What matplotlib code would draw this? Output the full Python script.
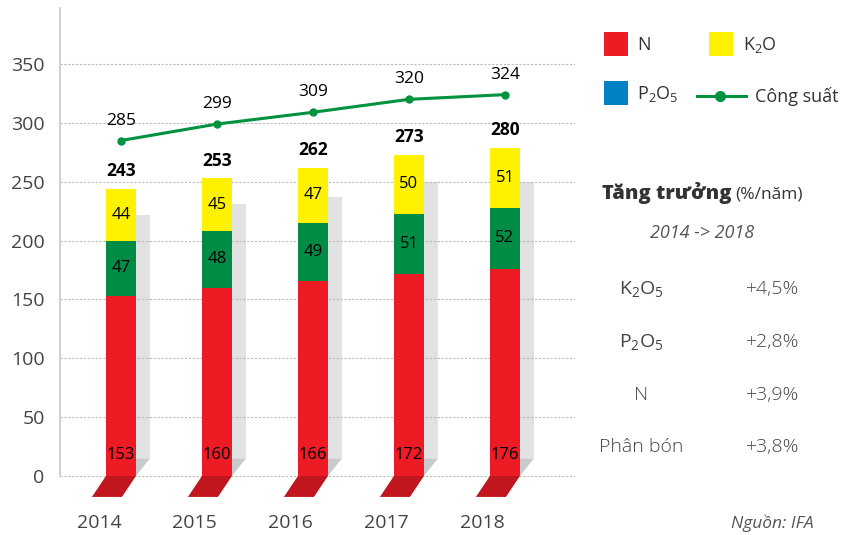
import numpy as np
import matplotlib
matplotlib.use("Agg")
import matplotlib.pyplot as plt
from matplotlib.patches import Rectangle, Polygon
from matplotlib.lines import Line2D

plt.rcParams['font.family'] = ['Open Sans', 'DejaVu Sans']
plt.rcParams['mathtext.fontset'] = 'custom'
plt.rcParams['mathtext.rm'] = 'Open Sans'
plt.rcParams['mathtext.it'] = 'Open Sans:italic'
plt.rcParams['mathtext.bf'] = 'Open Sans:bold'

# du lieu
years = ['2014', '2015', '2016', '2017', '2018']
n_vals = [153, 160, 166, 172, 176]
p2o5_vals = [47, 48, 49, 51, 52]
k2o_vals = [44, 45, 47, 50, 51]
totals = [243, 253, 262, 273, 280]
capacity = [285, 299, 309, 320, 324]
shadow_h = [222, 231, 237, 250, 250]

growth_labels = [r'$\mathrm{K_2O_5}$', r'$\mathrm{P_2O_5}$', 'N', 'Phân bón']
growth_values = ['+4,5%', '+2,8%', '+3,9%', '+3,8%']

# mau
RED = '#ed1c24'
RED_DARK = '#c1161d'
GREEN = '#008c44'
YELLOW = '#fff200'
BLUE = '#0081c6'
LINE_GREEN = '#00923f'
SHADOW = '#e1e2e4'
SHADOW_DARK = '#c9cacc'
GREY_TXT = '#444444'

W, H = 845, 535
fig = plt.figure(figsize=(W / 100, H / 100), dpi=100)


def fp(x, y):
    # pixel -> toa do figure
    return x / W, 1 - y / H


ax = fig.add_axes([60 / W, 1 - 500 / H, (575 - 60) / W, (500 - 8) / H])
x = np.arange(len(years))
bw = 0.3125
sw = 0.146       # be rong bong
depth = 17.8     # chieu sau nen
ax.set_xlim(-0.635, 4.73)
ax.set_ylim(-20.4, 397.6)

# bong xam phia sau
for xi, sh in zip(x, shadow_h):
    x0 = xi + bw / 2
    ax.add_patch(Rectangle((x0, 15), sw, sh - 15, color=SHADOW, lw=0, zorder=1))
    ax.add_patch(Polygon([(x0, 15), (x0 + sw, 15), (x0, 0)], closed=True,
                         color=SHADOW_DARK, lw=0, zorder=1))
    # nen do
    ax.add_patch(Polygon([(x0 - bw, 0), (x0, 0), (x0 - sw, -depth), (x0 - bw - sw, -depth)],
                         closed=True, color=RED_DARK, lw=0, zorder=2, clip_on=False))

b1 = np.array(n_vals)
b2 = b1 + np.array(p2o5_vals)
ax.bar(x, n_vals, bw, color=RED, zorder=3)
ax.bar(x, p2o5_vals, bw, bottom=b1, color=GREEN, zorder=3)
ax.bar(x, k2o_vals, bw, bottom=b2, color=YELLOW, zorder=3)

for i in range(len(years)):
    ax.text(x[i], 18, str(n_vals[i]), ha='center', va='center', fontsize=12, color='black', zorder=5)
    ax.text(x[i], b1[i] + p2o5_vals[i] / 2, str(p2o5_vals[i]), ha='center', va='center',
            fontsize=12, color='black', zorder=5)
    ax.text(x[i], b2[i] + k2o_vals[i] / 2, str(k2o_vals[i]), ha='center', va='center',
            fontsize=12, color='black', zorder=5)
    ax.text(x[i], b2[i] + k2o_vals[i] + 15, str(totals[i]), ha='center', va='center',
            fontsize=12.5, fontweight='bold', color='black', zorder=5)
    ax.text(x[i], capacity[i] + 17, str(capacity[i]), ha='center', va='center',
            fontsize=12.5, color='black', zorder=5)
    ax.text(x[i] - 0.23, -40, years[i], ha='center', va='center', fontsize=14,
            color=GREY_TXT, clip_on=False)

ax.plot(x, capacity, color=LINE_GREEN, lw=2.2, marker='o', ms=5, zorder=4)

# truc
ax.set_yticks(np.arange(0, 351, 50))
ax.set_xticks([])
ax.tick_params(axis='y', length=0, pad=11, labelsize=14, labelcolor=GREY_TXT)
ax.grid(axis='y', color='#bbbbbb', linestyle=(0, (2, 1.5)), lw=0.8, zorder=0)
for s in ['top', 'right', 'bottom']:
    ax.spines[s].set_visible(False)
ax.spines['left'].set_bounds(0, 397.6)
ax.spines['left'].set_color('#c8c8c8')
ax.spines['left'].set_linewidth(1.2)

# chu giai
def square(px, py, c):
    x0, y1 = fp(px, py + 24)
    fig.add_artist(Rectangle((x0, y1), 24 / W, 24 / H, color=c, lw=0, transform=fig.transFigure))

square(604, 32, RED)
square(709, 32, YELLOW)
square(604, 81, BLUE)
fig.text(*fp(637, 45), 'N', fontsize=13, color='#333333', va='center')
fig.text(*fp(743, 45), r'$\mathrm{K_2O}$', fontsize=13, color='#333333', va='center')
fig.text(*fp(637, 94), r'$\mathrm{P_2O_5}$', fontsize=13, color='#333333', va='center')
lx0, ly = fp(697, 96)
lx1, _ = fp(746, 96)
fig.add_artist(Line2D([lx0, lx1], [ly, ly], color=LINE_GREEN, lw=2.2, transform=fig.transFigure))
fig.add_artist(Line2D([fp(720, 96)[0]], [ly], color=LINE_GREEN, marker='o', ms=7,
                      transform=fig.transFigure))
fig.text(*fp(755, 97), 'Công suất', fontsize=13, color='#333333', va='center')

# tang truong
t1 = fig.text(*fp(602, 193), 'Tăng trưởng', fontsize=14.5, fontweight='heavy',
              color='#333333', va='center')
ax.annotate('(%/năm)', xy=(1, 0.45), xycoords=t1, xytext=(3, 0), textcoords='offset points',
            fontsize=12.5, color='#333333', va='center', ha='left')
fig.text(*fp(702, 233), '2014 -> 2018', fontsize=13, style='italic', color='#555555',
         ha='center', va='center')
rows_y = [289, 342, 395, 447]
for lab, val, ry in zip(growth_labels, growth_values, rows_y):
    fig.text(*fp(641, ry), lab, fontsize=14, fontweight='light', color=GREY_TXT,
             ha='center', va='center')
    fig.text(*fp(799, ry), val, fontsize=14, fontweight='light', color=GREY_TXT,
             ha='right', va='center')
fig.text(*fp(814, 523), 'Nguồn: IFA', fontsize=12.5, style='italic', color='#555555',
         ha='right', va='center')

fig.savefig('out.png', dpi=100)
